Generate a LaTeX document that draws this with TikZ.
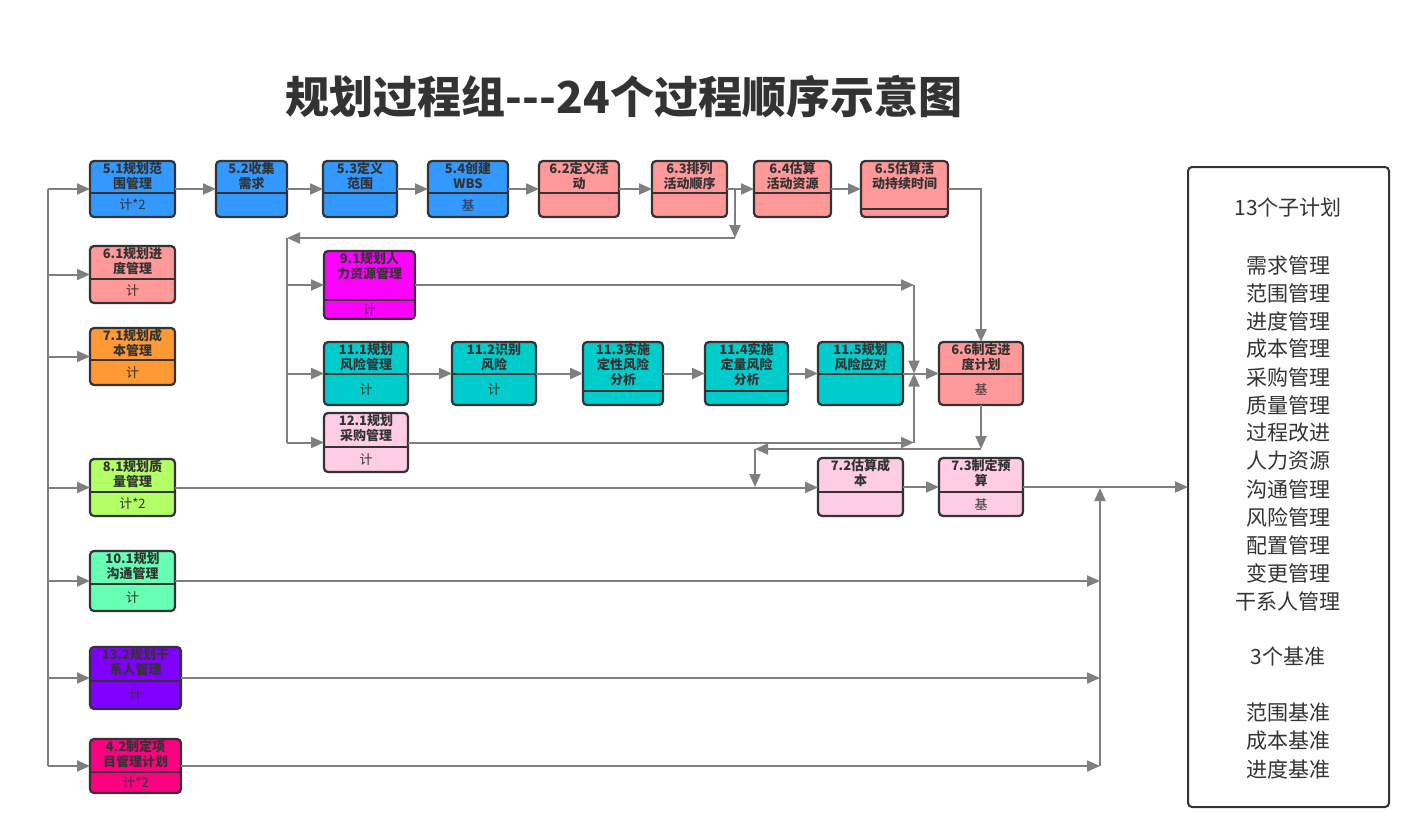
\documentclass[tikz,border=0pt]{standalone}
\usepackage{fontspec}
\usepackage{xcolor}
\usetikzlibrary{arrows.meta, positioning, calc, fit}
\newfontfamily\cjk{Noto Sans CJK SC}
\definecolor{pgBlue}{HTML}{3399FF}
\definecolor{pgPink}{HTML}{FF9999}
\definecolor{pgOrange}{HTML}{FF9933}
\definecolor{pgLime}{HTML}{B3FF66}
\definecolor{pgMint}{HTML}{66FFB3}
\definecolor{pgPurple}{HTML}{8000FF}
\definecolor{pgRose}{HTML}{FF0080}
\definecolor{pgFuchsia}{HTML}{FF00FF}
\definecolor{pgTeal}{HTML}{00CCCC}
\definecolor{pgBlush}{HTML}{FFCCE5}
\definecolor{pgInk}{HTML}{333333}
\definecolor{pgArrow}{HTML}{7F7F7F}

\begin{document}
\begin{tikzpicture}[x=1pt,y=-1pt,
  pbox/.style={draw=pgInk,line width=2.2pt,rounded corners=4pt,inner sep=0pt,outer sep=0pt},
  pdiv/.style={draw=pgInk,line width=2.2pt},
  ptitle/.style={font=\cjk\bfseries\fontsize{13}{15}\selectfont,text=pgInk,align=center,inner sep=0pt},
  psub/.style={font=\cjk\fontsize{13}{15}\selectfont,text=pgInk,inner sep=0pt},
  arr/.style={draw=pgArrow,line width=2pt,-{Triangle[length=13pt,width=11pt]}},
  bus/.style={draw=pgArrow,line width=2pt},
  plantext/.style={font=\cjk\fontsize{21}{28}\selectfont,text=pgInk,inner sep=0pt}]
\useasboundingbox (0,0) rectangle (1421,840);
\newcommand{\procbox}[9]{%
  \node[pbox,fill=#7,fit={(#2,#3) (#4,#5)}] (#1) {};
  \draw[pdiv] (#2,#6) -- (#4,#6);
  \node[ptitle,anchor=north] (#1t) at ($(#1.north)+(0,1)$) {#8};
  \node[psub] (#1s) at ($(#2,#6)!0.5!(#4,#5)$) {#9};
}
\node[font=\cjk\bfseries\fontsize{44}{50}\selectfont,text=pgInk] (title) at (624,97) {规划过程组---24个过程顺序示意图};

\procbox{n51}{90}{161}{175}{217}{193}{pgBlue}{5.1规划范\\围管理}{计*2}
\procbox{n52}{216}{161}{287}{217}{193}{pgBlue}{5.2收集\\需求}{}
\procbox{n53}{323}{161}{397}{217}{193}{pgBlue}{5.3定义\\范围}{}
\procbox{n54}{428}{161}{508}{217}{193}{pgBlue}{5.4创建\\WBS}{基}
\procbox{n62}{539}{161}{619}{217}{193}{pgPink}{6.2定义活\\动}{}
\procbox{n63}{652}{161}{727}{217}{193}{pgPink}{6.3排列\\活动顺序}{}
\procbox{n64}{754}{161}{831}{217}{193}{pgPink}{6.4估算\\活动资源}{}
\procbox{n65}{861}{161}{948}{217}{209}{pgPink}{6.5估算活\\动持续时间}{}
\procbox{n61}{90}{246}{175}{303}{279}{pgPink}{6.1规划进\\度管理}{计}
\procbox{n71}{90}{328}{175}{385}{360}{pgOrange}{7.1规划成\\本管理}{计}
\procbox{n81}{90}{459}{175}{516}{492}{pgLime}{8.1规划质\\量管理}{计*2}
\procbox{n101}{90}{551}{175}{611}{584}{pgMint}{10.1规划\\沟通管理}{计}
\procbox{n132}{90}{647}{181}{709}{681}{pgPurple}{13.2规划干\\系人管理}{计}
\procbox{n42}{90}{739}{181}{793}{772}{pgRose}{4.2制定项\\目管理计划}{计*2}
\procbox{n91}{324}{251}{415}{319}{300}{pgFuchsia}{9.1规划人\\力资源管理}{计}
\procbox{n111}{324}{342}{408}{405}{374}{pgTeal}{11.1规划\\风险管理}{计}
\procbox{n112}{452}{342}{536}{405}{374}{pgTeal}{11.2识别\\风险}{计}
\procbox{n113}{583}{342}{663}{405}{391}{pgTeal}{11.3实施\\定性风险\\分析}{}
\procbox{n114}{705}{342}{788}{405}{391}{pgTeal}{11.4实施\\定量风险\\分析}{}
\procbox{n115}{818}{342}{903}{405}{374}{pgTeal}{11.5规划\\风险应对}{}
\procbox{n66}{939}{342}{1023}{405}{374}{pgPink}{6.6制定进\\度计划}{基}
\procbox{n121}{324}{413}{408}{472}{447}{pgBlush}{12.1规划\\采购管理}{计}
\procbox{n72}{818}{458}{903}{516}{492}{pgBlush}{7.2估算成\\本}{}
\procbox{n73}{939}{458}{1023}{516}{492}{pgBlush}{7.3制定预\\算}{基}

\node[pbox,line width=2pt,fit={(1188,167) (1389,807)}] (plan) {};
\node[plantext] (planA) at (1288,208) {13个子计划};
\foreach \t [count=\i] in {需求管理,范围管理,进度管理,成本管理,采购管理,质量管理,过程改进,人力资源,沟通管理,风险管理,配置管理,变更管理,干系人管理}
  \node[plantext] (plan\i) at (1288,237+28*\i) {\t};
\node[plantext] (planB) at (1288,657) {3个基准};
\foreach \t [count=\i] in {范围基准,成本基准,进度基准}
  \node[plantext] (base\i) at (1288,685+28*\i) {\t};

\coordinate (busL) at (48,0);
\coordinate (busM) at (287,238);
\coordinate (brk) at (735,238);
\coordinate (mrg) at (914,0);
\coordinate (drop) at (755,449);
\coordinate (busR) at (1100,488);

\draw[bus] (busL |- n51.west) -- (busL |- n42.west);
\foreach \n in {n51,n61,n71,n81,n101,n132,n42}
  \draw[arr] (busL |- \n.west) -- (\n.west);
\foreach \a/\b in {n51/n52,n52/n53,n53/n54,n54/n62,n62/n63,n63/n64,n64/n65,n111/n112,n112/n113,n113/n114,n114/n115,n115/n66,n81/n72,n72/n73}
  \draw[arr] (\a.east) -- (\a.east -| \b.west);
\draw[arr] (n63.east -| brk) -- (brk);
\draw[arr] (brk) -- (busM);
\draw[bus] (busM) -- (busM |- n121.west);
\foreach \n in {n91,n111,n121}
  \draw[arr] (busM |- \n.west) -- (\n.west);
\draw[arr] (n91.east) -- (n91.east -| mrg);
\draw[arr] (n91.east -| mrg) -- (mrg |- n115.east);
\draw[arr] (n121.east) -- (n121.east -| mrg);
\draw[arr] (n121.east -| mrg) -- (mrg |- n115.east);
\draw[arr] (n65.east) -| (n66.north);
\draw[arr] (n66.south) -- (n66.south |- drop);
\draw[arr] (n66.south |- drop) -- (drop);
\draw[arr] (drop) -- (drop |- n72.west);
\draw[arr] (n73.east) -- (n73.east -| plan.west);
\foreach \n in {n101,n132,n42}
  \draw[arr] (\n.east) -- (\n.east -| busR);
\draw[arr] (busR |- n42.east) -- (busR);
\end{tikzpicture}
\end{document}
